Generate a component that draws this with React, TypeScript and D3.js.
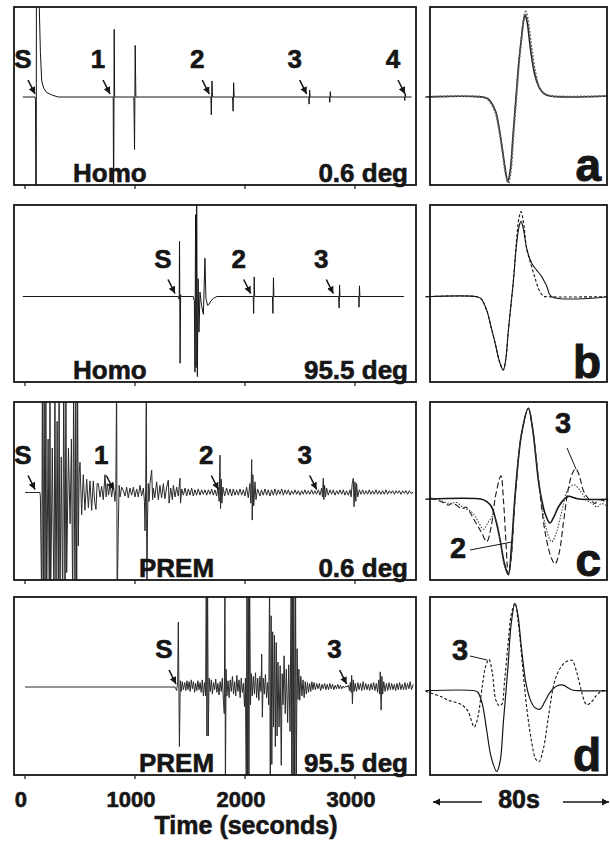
import React from 'react';
import * as d3 from 'd3';

type Pt = [number, number];

// seismograms, [time (s), amplitude]
const homoNear: Pt[] = [
  [-20, 0], [92, 0], [96, -0.04], [99, -1.6], [102, -1.6], [104, 1.6], [124, 1.6], [130, 1.0],
  [140, 0.5], [152, 0.18], [170, 0.1], [197, 0.05], [250, 0.02], [303, 0], [802, 0],
  [806, -1.3], [811, 0.76], [815, 0], [990, 0], [996, -0.59], [1002, 0.58], [1008, 0],
  [1690, 0], [1694, -0.2], [1700, 0.18], [1705, 0], [1888, 0], [1892, -0.16], [1897, 0.16],
  [1902, 0], [2580, 0], [2583, -0.08], [2588, 0.08], [2592, 0], [2768, 0], [2771, -0.06],
  [2776, 0.06], [2780, 0], [3450, 0], [3453, -0.04], [3457, 0.04], [3460, 0], [3515, 0]
];

const homoFar: Pt[] = [
  [-20, 0], [1395, 0], [1402, -0.03], [1405, 0.62], [1410, -0.75], [1415, 0.02], [1420, 0],
  [1530, 0], [1540, -0.05], [1545, -0.85], [1551, 0.92], [1556, -0.8], [1561, 1.3], [1567, -0.9],
  [1574, 0.2], [1582, -0.4], [1591, 0.05], [1605, -0.1], [1622, -0.2], [1636, 0.43], [1645, -0.02],
  [1660, -0.1], [1672, -0.09], [1690, -0.05], [1715, -0.02], [1745, 0], [2075, 0], [2079, -0.19],
  [2084, 0.22], [2088, 0], [2250, 0], [2254, -0.19], [2259, 0.21], [2263, 0], [2852, 0],
  [2856, -0.13], [2860, 0.13], [2864, 0], [3034, 0], [3037, -0.12], [3041, 0.12], [3045, 0], [3445, 0]
];

const premNear: Pt[] = [
  [0, 0], [136, 0], [140, -0.05], [152, -1.3], [158, 1.3], [166, -1.3], [174, 1.3], [182, -1.3],
  [190, 1.3], [197, -1.3], [210, 0.6], [221, -1.3], [227, 1.3], [233, -1.3], [248, 0.5], [264, -1.3],
  [272, 1.3], [282, -1.3], [292, 0.8], [303, -1.3], [310, 1.3], [318, -1.3], [330, 0.4], [343, -1.3],
  [352, 1.3], [364, -1.3], [372, 1.3], [379, -0.9], [395, 0.5], [410, -0.35], [422, 0.6], [434, -1.3],
  [442, 1.3], [455, -1.3], [462, 1.3], [470, -1.3], [478, 1.3], [485, -0.6], [492, 0.2], [500, 0.34],
  [515, -0.25], [530, 0.2], [545, -0.2], [561, 0.15], [576, -0.17], [591, 0.13], [606, -0.2],
  [621, 0.13], [633, -0.1], [645, -0.19], [656, 0.1], [667, 0.1], [682, -0.05], [697, 0.07],
  [712, -0.08], [727, 0.2], [738, -0.05], [748, 0.1], [760, -0.03], [773, 0.1], [788, -0.05],
  [803, 0.1], [818, -0.1], [826, 0.05], [833, 1.3], [838, -1.3], [848, -0.4], [856, 0.08],
  [864, -0.05], [879, 0.06], [894, 0.02], [909, -0.04], [924, 0.06], [939, -0.06], [954, 0.05],
  [970, -0.03], [985, 0.06], [1000, -0.05], [1015, 0.04], [1030, -0.05], [1045, 0.08], [1060, -0.04],
  [1076, 0.05], [1086, -0.1], [1091, -0.43], [1098, 0.1], [1103, 1.3], [1108, -1.3], [1114, -0.3],
  [1121, 0.1], [1128, -0.1], [1136, 0.1], [1152, 0.25], [1160, -0.08], [1167, 0.05], [1180, -0.06],
  [1197, 0.12], [1212, -0.08], [1227, 0.08], [1242, -0.06], [1258, 0.1], [1272, -0.07], [1288, 0.06],
  [1303, 0.14], [1310, -0.12], [1325, 0.05], [1340, -0.08], [1349, 0.08], [1364, -0.05], [1379, 0.06],
  [1394, -0.04], [1409, 0.16], [1414, -0.12], [1425, 0.04], [1440, -0.03], [1455, 0.05], [1470, -0.04],
  [1485, 0.04], [1500, -0.03], [1515, 0.05], [1530, -0.04], [1545, 0.03], [1560, -0.03], [1575, 0.04],
  [1591, -0.03], [1606, 0.03], [1621, -0.02], [1636, 0.03], [1652, -0.03], [1667, 0.03], [1682, -0.02],
  [1697, 0.04], [1712, -0.03], [1727, 0.03], [1742, -0.04], [1755, 0.06], [1765, -0.1], [1773, 0.42],
  [1778, -0.18], [1784, 0.15], [1790, -0.12], [1800, 0.06], [1815, -0.04], [1833, 0.05], [1848, -0.03],
  [1864, 0.04], [1879, -0.04], [1894, 0.04], [1909, -0.03], [1924, 0.03], [1940, -0.03], [1955, 0.04],
  [1970, -0.03], [1985, 0.03], [2000, -0.04], [2015, 0.06], [2030, -0.06], [2045, 0.1], [2053, -0.12],
  [2061, 0.37], [2066, -0.31], [2072, 0.2], [2080, -0.15], [2091, 0.12], [2100, -0.08], [2115, 0.04],
  [2136, -0.04], [2150, 0.03], [2166, -0.03], [2182, 0.04], [2197, -0.03], [2212, 0.03], [2227, -0.04],
  [2242, 0.03], [2258, -0.03], [2273, 0.04], [2288, -0.03], [2303, 0.03], [2318, -0.02], [2334, 0.04],
  [2349, -0.03], [2364, 0.03], [2379, -0.02], [2394, 0.03], [2409, -0.03], [2424, 0.02], [2440, -0.02],
  [2455, 0.03], [2470, -0.02], [2485, 0.02], [2500, -0.03], [2515, 0.02], [2530, -0.02], [2545, 0.03],
  [2560, -0.02], [2575, 0.02], [2590, -0.02], [2606, 0.03], [2621, -0.02], [2636, 0.02], [2651, -0.02],
  [2667, 0.03], [2682, -0.03], [2697, 0.05], [2705, -0.05], [2712, 0.16], [2717, -0.08], [2724, 0.08],
  [2732, -0.05], [2742, 0.05], [2757, -0.03], [2773, 0.03], [2788, -0.02], [2803, 0.03], [2818, -0.03],
  [2834, 0.02], [2849, -0.02], [2864, 0.03], [2879, -0.02], [2894, 0.03], [2909, -0.03], [2924, 0.02],
  [2940, -0.03], [2955, 0.03], [2965, -0.05], [2975, 0.1], [2985, 0.16], [2992, -0.16], [3000, 0.12],
  [3008, -0.1], [3015, 0.1], [3025, -0.05], [3040, 0.03], [3055, -0.02], [3070, 0.03], [3085, -0.02],
  [3100, 0.02], [3115, -0.02], [3130, 0.03], [3145, -0.02], [3160, 0.02], [3176, -0.02], [3191, 0.03],
  [3206, -0.02], [3221, 0.02], [3236, -0.02], [3251, 0.02], [3267, -0.02], [3282, 0.03], [3297, -0.02],
  [3312, 0.02], [3327, -0.01], [3342, 0.02], [3358, -0.02], [3373, 0.02], [3388, -0.01], [3403, 0.02],
  [3418, -0.02], [3433, 0.02], [3449, -0.01], [3464, 0.02], [3479, -0.02], [3494, 0.02], [3509, -0.01],
  [3530, 0]
];

const premFar: Pt[] = [
  [0, 0], [1364, 0], [1379, -0.04], [1388, 0.05], [1394, 0.73], [1404, -0.67], [1412, 0.07],
  [1420, -0.05], [1430, 0.06], [1440, -0.03], [1452, 0.05], [1462, -0.04], [1472, 0.07], [1482, -0.03],
  [1492, 0.06], [1502, -0.05], [1512, 0.08], [1522, -0.02], [1532, 0.06], [1542, -0.06], [1552, 0.04],
  [1562, -0.04], [1572, 0.07], [1582, -0.03], [1592, 0.05], [1602, -0.06], [1612, 0.08], [1622, -0.1],
  [1632, 0.05], [1642, -0.1], [1648, 1.3], [1654, -0.55], [1660, 1.3], [1666, -0.55], [1674, 0.1],
  [1684, -0.05], [1694, 0.08], [1704, -0.08], [1714, 0.05], [1724, -0.03], [1734, 0.09], [1744, -0.06],
  [1754, 0.04], [1764, -0.09], [1774, 0.06], [1784, -0.05], [1794, 0.1], [1804, -0.15], [1812, -0.3],
  [1818, 1.3], [1822, -1.3], [1828, 0.2], [1836, -0.1], [1846, 0.07], [1856, -0.12], [1866, 0.08],
  [1876, -0.05], [1886, 0.12], [1896, -0.08], [1906, 0.06], [1916, -0.1], [1926, 0.13], [1936, -0.05],
  [1946, 0.08], [1956, -0.12], [1966, 0.1], [1976, -0.06], [1986, 0.04], [1996, -0.22], [2004, 0.1],
  [2012, -1.3], [2018, 1.3], [2024, -1.3], [2030, 1.3], [2036, -1.3], [2042, 1.3], [2050, -0.2],
  [2058, 0.15], [2066, -0.1], [2076, 0.12], [2086, -0.08], [2096, 0.16], [2106, -0.12], [2116, 0.1],
  [2126, -0.15], [2136, 0.12], [2146, -0.05], [2152, 0.37], [2158, -0.34], [2166, 0.1], [2176, -0.08],
  [2186, 0.14], [2196, -0.12], [2206, 0.05], [2216, -0.2], [2224, 1.3], [2230, -1.3], [2238, 0.8],
  [2244, -0.87], [2252, 0.62], [2260, -0.45], [2268, 0.58], [2276, -0.67], [2284, 0.5], [2292, -0.55],
  [2300, 0.28], [2310, -0.45], [2320, 0.24], [2330, -0.88], [2338, 0.15], [2346, -0.2], [2356, 0.35],
  [2366, -0.3], [2376, 0.2], [2388, -0.4], [2398, 0.25], [2410, -0.5], [2420, 1.3], [2426, -1.3],
  [2432, 1.3], [2438, -1.3], [2444, 1.3], [2452, -1.3], [2460, 1.3], [2466, -1.3], [2474, 0.43],
  [2482, -0.14], [2490, 0.2], [2498, -0.15], [2508, 0.12], [2518, -0.1], [2528, 0.08], [2538, -0.12],
  [2548, 0.06], [2558, -0.08], [2568, 0.05], [2578, -0.06], [2588, 0.04], [2598, -0.05], [2608, 0.06],
  [2618, -0.03], [2628, 0.05], [2640, -0.03], [2652, 0.04], [2664, -0.02], [2676, 0.04], [2688, -0.04],
  [2700, 0.03], [2712, -0.02], [2724, 0.04], [2736, -0.03], [2748, 0.03], [2760, -0.03], [2772, 0.04],
  [2784, -0.02], [2796, 0.03], [2808, -0.03], [2820, 0.02], [2832, -0.02], [2844, 0.03], [2856, -0.02],
  [2868, 0.02], [2880, -0.02], [2892, 0.01], [2904, -0.01], [2916, 0.01], [2928, 0], [2940, 0.02],
  [2950, -0.04], [2958, 0.05], [2965, -0.06], [2970, 0.13], [2977, -0.19], [2984, 0.08], [2992, -0.05],
  [3002, 0.04], [3014, -0.05], [3026, 0.05], [3038, -0.03], [3050, 0.04], [3062, -0.04], [3074, 0.06],
  [3086, -0.03], [3098, 0.04], [3110, -0.03], [3122, 0.03], [3134, -0.04], [3146, 0.04], [3158, -0.03],
  [3170, 0.05], [3182, -0.04], [3194, 0.04], [3206, -0.06], [3216, 0.08], [3225, -0.08], [3230, 0.17],
  [3238, -0.26], [3245, 0.12], [3252, -0.08], [3262, 0.06], [3274, -0.05], [3286, 0.04], [3298, -0.04],
  [3310, 0.05], [3322, -0.03], [3334, 0.04], [3346, -0.03], [3358, 0.03], [3370, -0.04], [3382, 0.04],
  [3394, -0.03], [3406, 0.05], [3418, -0.03], [3430, 0.03], [3442, -0.03], [3454, 0.05], [3466, -0.03],
  [3478, 0.04], [3490, -0.02], [3502, 0.06], [3514, -0.03], [3530, 0.03]
];

// 80 s windows around the picked arrivals
const zoomASolid: Pt[] = [
  [-2, -0.01], [23, -0.01], [26, -0.03], [29.3, -0.16], [31, -0.35], [32.6, -0.61], [34, -0.85],
  [34.9, -0.96], [36, -0.85], [37.3, -0.45], [38.7, 0], [40, 0.4], [41, 0.63], [42, 0.84], [42.7, 0.91],
  [43.6, 0.84], [45.2, 0.52], [47, 0.25], [49, 0.1], [51, 0.03], [54, 0], [80, 0]
];
const zoomADotted: Pt[] = [
  [-2, -0.01], [23, -0.01], [26, -0.04], [29.3, -0.18], [31, -0.38], [32.6, -0.64], [34, -0.88],
  [35.2, -0.98], [36.3, -0.85], [37.5, -0.45], [38.9, 0], [40.2, 0.42], [41.3, 0.68], [42.2, 0.88],
  [43, 0.95], [44, 0.86], [45.6, 0.55], [47.5, 0.25], [49.5, 0.08], [52, 0.02], [55, 0], [80, 0]
];
const zoomBSolid: Pt[] = [
  [-2, -0.036], [21, -0.036], [23, -0.06], [25.5, -0.19], [27.5, -0.38], [29.3, -0.56], [31.3, -0.77],
  [32.9, -0.86], [34, -0.75], [35.1, -0.45], [36.3, -0.15], [37.4, 0.12], [38.9, 0.55], [40, 0.75],
  [40.9, 0.81], [42, 0.72], [43.5, 0.5], [45.7, 0.34], [48, 0.26], [50.2, 0.19], [52.5, 0.08],
  [54.7, -0.036], [80, -0.036]
];
const zoomBDashed: Pt[] = [
  [-2, -0.036], [21, -0.036], [23, -0.06], [25.5, -0.19], [27.5, -0.38], [29.3, -0.56], [31.3, -0.77],
  [32.9, -0.86], [34, -0.75], [35.1, -0.45], [36.3, -0.15], [37.4, 0.12], [38.9, 0.6], [40, 0.85],
  [40.9, 0.92], [42, 0.8], [43.5, 0.5], [45.7, 0.3], [47.5, 0.15], [49, 0.04], [51, -0.03],
  [52.5, -0.036], [80, -0.036]
];
const zoomCSolid: Pt[] = [
  [-2, -0.093], [23.2, -0.093], [25.5, -0.12], [27.7, -0.18], [29.5, -0.32], [31.5, -0.55],
  [33.5, -0.82], [35.2, -0.94], [36.7, -0.6], [38.2, -0.06], [41.2, 0.65], [44.2, 0.93], [46, 0.72],
  [47.5, 0.4], [48.7, 0.12], [50.2, -0.1], [51.7, -0.25], [53.9, -0.36], [55.5, -0.3], [57.7, -0.18],
  [60, -0.1], [62.2, -0.06], [65.2, -0.08], [68, -0.093], [80, -0.093]
];
const zoomCDashed: Pt[] = [
  [0, -0.08], [3, -0.1], [5, -0.12], [7, -0.14], [8.2, -0.16], [10, -0.14], [12, -0.16], [14.2, -0.2],
  [16, -0.18], [18, -0.24], [20.2, -0.34], [23.2, -0.47], [25.5, -0.57], [27.5, -0.4], [29.5, -0.05],
  [31.9, 0.17], [33, -0.1], [34.2, -0.6], [35.2, -0.94], [36.5, -0.75], [38.2, -0.1], [41.2, 0.65],
  [44.2, 0.93], [46, 0.72], [48, 0.3], [50, -0.15], [52, -0.5], [54.5, -0.75], [56.2, -0.82], [58, -0.7],
  [60, -0.35], [62, 0], [64, 0.2], [65.5, 0.25], [67, 0.18], [69, 0], [71, -0.08], [73, -0.12],
  [74.2, -0.14], [75.5, -0.1], [77, -0.1], [79, -0.12], [80, -0.1]
];
const zoomCDotted: Pt[] = [
  [0, -0.08], [3, -0.09], [6, -0.12], [9, -0.14], [12, -0.13], [15, -0.19], [18, -0.22], [20.2, -0.28],
  [22, -0.36], [24, -0.43], [25.5, -0.38], [27, -0.32], [28.5, -0.28], [30, -0.35], [31.5, -0.55],
  [33.5, -0.85], [35.2, -0.94], [36.5, -0.75], [38.2, -0.1], [41.2, 0.65], [44.2, 0.93], [46, 0.72],
  [48, 0.3], [50, -0.1], [52, -0.4], [54.7, -0.57], [57, -0.45], [59.5, -0.2], [62, 0.02], [64.6, 0.07],
  [67, 0.02], [69, -0.05], [71.3, -0.12], [73, -0.14], [75, -0.18], [77, -0.14], [79, -0.16], [80, -0.15]
];
const zoomDSolid: Pt[] = [
  [-2, -0.053], [20, -0.053], [21.5, -0.07], [23.5, -0.2], [25.5, -0.5], [27.5, -0.8], [30, -0.96],
  [31.5, -0.85], [33, -0.4], [35, 0.2], [36.5, 0.7], [38.2, 0.93], [39.5, 0.8], [41, 0.45], [43, 0.05],
  [45, -0.15], [47, -0.24], [49.4, -0.26], [51.5, -0.18], [54, -0.07], [57, 0], [59.9, 0.01], [62, -0.02],
  [64, -0.045], [66.7, -0.053], [80, -0.053]
];
const zoomDDashed: Pt[] = [
  [-2, -0.06], [5, -0.12], [8.2, -0.16], [11, -0.18], [14.2, -0.21], [17, -0.28], [19.9, -0.46],
  [21.5, -0.35], [23.5, 0], [25, 0.22], [26.5, 0.3], [28, 0.15], [29.5, -0.15], [31, -0.22],
  [32.2, -0.21], [33.5, 0.05], [35, 0.45], [36.5, 0.8], [38.2, 0.93], [39.5, 0.75], [41.5, 0.25],
  [43.5, -0.25], [45.5, -0.6], [47.5, -0.82], [49, -0.85], [51, -0.7], [53.5, -0.3], [56, 0.05],
  [58.5, 0.2], [61, 0.27], [63.7, 0.29], [66, 0.15], [68, -0.05], [70.4, -0.21], [72.5, -0.18],
  [75, -0.1], [77, -0.06], [80, -0.05]
];

const TIME_TICKS = [0, 1000, 2000, 3000];
const PANEL_LETTERS = ['a', 'b', 'c', 'd'];
const MODELS = ['Homo', 'Homo', 'PREM', 'PREM'];
const DISTANCES = ['0.6 deg', '95.5 deg', '0.6 deg', '95.5 deg'];
const TRACES = [homoNear, homoFar, premNear, premFar];
// phase picks: label and arrival time the arrow points at
const PICKS: {text: string, t: number}[][] = [
  [{text: 'S', t: 91}, {text: '1', t: 773}, {text: '2', t: 1675}, {text: '3', t: 2561}, {text: '4', t: 3455}],
  [{text: 'S', t: 1364}, {text: '2', t: 2052}, {text: '3', t: 2803}],
  [{text: 'S', t: 91}, {text: '1', t: 803}, {text: '2', t: 1758}, {text: '3', t: 2652}],
  [{text: 'S', t: 1373}, {text: '3', t: 2924}]
];

const FONT = '"Liberation Sans", Arial, Helvetica, sans-serif';
const INK = '#161616';
const ROWS = [
  {top: 7, bottom: 185, base: 97},
  {top: 205, bottom: 382, base: 296.5},
  {top: 402, bottom: 580, base: 492.5},
  {top: 597, bottom: 775, base: 687}
];
const LEFT = [14, 416];
const RIGHT = [430, 608];
const HALF = 89;
const MODEL_X = [73, 73, 139, 139];

export default function App() {
  const x = d3.scaleLinear().domain([-100, 3555]).range(LEFT);
  const xz = d3.scaleLinear().domain([0, 80]).range(RIGHT);

  const zooms = [
    [{d: zoomASolid, dash: null, w: 1.6, c: '#222'}, {d: zoomADotted, dash: '2,1.5', w: 1.8, c: '#666'}],
    [{d: zoomBSolid, dash: null, w: 1.1, c: INK}, {d: zoomBDashed, dash: '3,2', w: 1.1, c: INK}],
    [{d: zoomCSolid, dash: null, w: 1.6, c: INK}, {d: zoomCDashed, dash: '6,3', w: 1.1, c: INK},
      {d: zoomCDotted, dash: '1.5,1.5', w: 1.1, c: '#444'}],
    [{d: zoomDSolid, dash: null, w: 1.2, c: INK}, {d: zoomDDashed, dash: '3,2', w: 1.1, c: INK}]
  ];

  // heavier lettering, like the printed figure
  const heavy = {stroke: INK, strokeWidth: 0.6, fill: INK};

  return (
    <svg width={610} height={851} style={{position: 'absolute', left: 0, top: 0, background: '#fff'}}
      fontFamily={FONT} fontWeight="bold">
      <defs>
        <marker id="head" markerWidth="8" markerHeight="8" refX="7" refY="4" orient="auto"
          markerUnits="userSpaceOnUse">
          <path d="M0,0.5 L7,4 L0,7.5 Z" fill={INK}/>
        </marker>
        {ROWS.map((r, i) => (
          <clipPath id={`clip${i}`} key={i}>
            <rect x={LEFT[0]} y={r.top} width={LEFT[1] - LEFT[0]} height={r.bottom - r.top}/>
          </clipPath>
        ))}
      </defs>

      {ROWS.map((r, i) => {
        const y = d3.scaleLinear().domain([-1, 1]).range([r.base + HALF, r.base - HALF]);
        const mid = (r.top + r.bottom) / 2;
        const yz = d3.scaleLinear().domain([-1, 1]).range([mid + HALF, mid - HALF]);
        const line = d3.line<Pt>().x(d => x(d[0])).y(d => y(d[1]));
        const zline = d3.line<Pt>().x(d => xz(d[0])).y(d => yz(d[1])).curve(d3.curveCatmullRom);
        return (
          <g key={i}>
            <path d={line(TRACES[i]) || ''} fill="none" stroke={i >= 2 ? '#2a2a2a' : INK}
              strokeWidth={1} clipPath={`url(#clip${i})`}/>
            {PICKS[i].map((p, j) => {
              const tx = x(p.t), ty = r.base - 3;
              return (
                <g key={j}>
                  <line x1={tx - 7} y1={ty - 14} x2={tx} y2={ty} stroke={INK} strokeWidth={1.6}
                    markerEnd="url(#head)"/>
                  <text x={tx - 12} y={ty - 26} fontSize={26} textAnchor="middle" {...heavy}>{p.text}</text>
                </g>
              );
            })}
            <text x={MODEL_X[i]} y={r.bottom - 3} fontSize={26} {...heavy}>{MODELS[i]}</text>
            <text x={408} y={r.bottom - 3} fontSize={26} textAnchor="end" {...heavy}>{DISTANCES[i]}</text>
            <rect x={LEFT[0]} y={r.top} width={LEFT[1] - LEFT[0]} height={r.bottom - r.top}
              fill="none" stroke={INK} strokeWidth={1.8}/>
            {TIME_TICKS.map(t => (
              <line key={t} x1={x(t)} x2={x(t)} y1={r.bottom} y2={r.bottom + 4} stroke={INK} strokeWidth={1.2}/>
            ))}

            {zooms[i].map((z, j) => (
              <path key={j} d={zline(z.d) || ''} fill="none" stroke={z.c} strokeWidth={z.w}
                strokeDasharray={z.dash || undefined}/>
            ))}
            <rect x={RIGHT[0]} y={r.top} width={RIGHT[1] - RIGHT[0] - 1} height={r.bottom - r.top}
              fill="none" stroke={INK} strokeWidth={1.8}/>
            <text x={601} y={r.bottom - 4} fontSize={46} textAnchor="end" {...heavy} strokeWidth={1}>
              {PANEL_LETTERS[i]}
            </text>
          </g>
        );
      })}

      {/* phase labels on the zoomed windows */}
      <text x={563} y={433} fontSize={29} textAnchor="middle" {...heavy}>3</text>
      <line x1={567} y1={448} x2={576} y2={469} stroke={INK} strokeWidth={1}/>
      <text x={458} y={558} fontSize={29} textAnchor="middle" {...heavy}>2</text>
      <line x1={470} y1={550} x2={512} y2={542} stroke={INK} strokeWidth={1}/>
      <text x={460} y={660} fontSize={29} textAnchor="middle" {...heavy}>3</text>
      <line x1={470} y1={656} x2={487} y2={660} stroke={INK} strokeWidth={1}/>

      {TIME_TICKS.map(t => (
        <text key={t} x={x(t) - 4} y={807} fontSize={22} textAnchor="middle" {...heavy}>{t}</text>
      ))}
      <text x={246} y={834} fontSize={25} textAnchor="middle" {...heavy}>Time (seconds)</text>

      <text x={xz(40)} y={808} fontSize={25} textAnchor="middle" {...heavy}>80s</text>
      <line x1={482} y1={802} x2={433} y2={802} stroke={INK} strokeWidth={1.4} markerEnd="url(#head)"/>
      <line x1={563} y1={802} x2={609} y2={802} stroke={INK} strokeWidth={1.4} markerEnd="url(#head)"/>
    </svg>
  );
}
